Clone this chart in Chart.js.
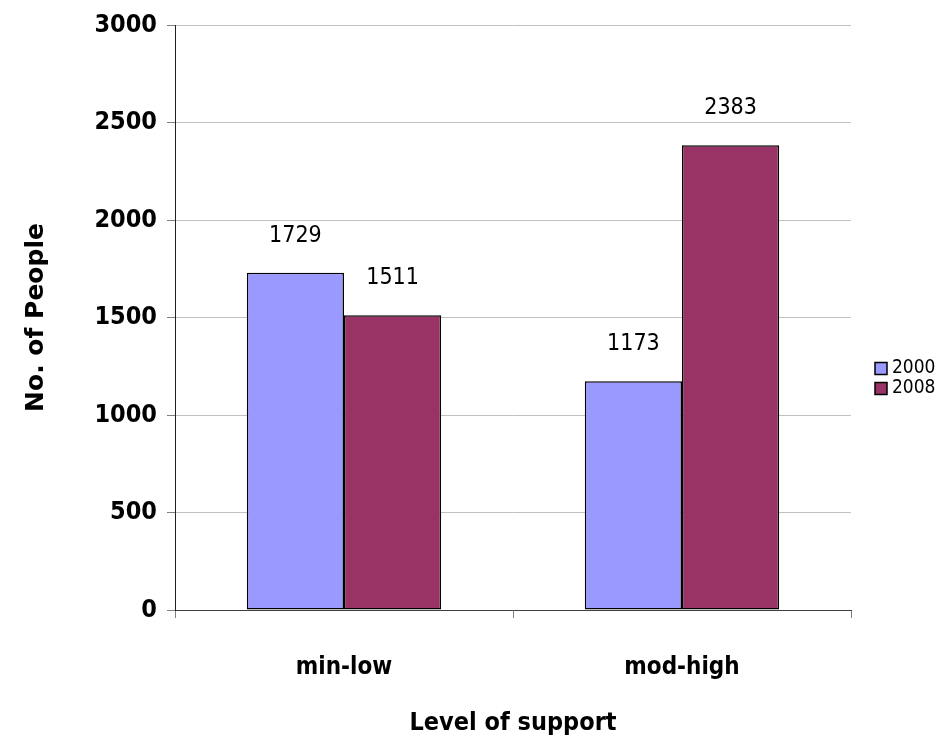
<!DOCTYPE html>
<html>
<head>
<meta charset="utf-8">
<script src="https://cdn.jsdelivr.net/npm/chart.js@4"></script>
<style>
  html, body { margin: 0; padding: 0; background: #fff; }
  #wrap { width: 937px; height: 750px; }
</style>
</head>
<body>
<div id="wrap"><canvas id="c" width="937" height="750"></canvas></div>
<script>
const categories = ['min-low', 'mod-high'];
const seriesNames = ['2000', '2008'];
const values2000 = [1729, 1173];
const values2008 = [1511, 2383];
const yTicks = [0, 500, 1000, 1500, 2000, 2500, 3000];

const NARROW = '"Liberation Sans Narrow", "DejaVu Sans Condensed", "Arial Narrow", sans-serif';

const valueLabels = {
  id: 'valueLabels',
  afterDatasetsDraw(chart) {
    const ctx = chart.ctx;
    ctx.save();
    ctx.font = '23px ' + NARROW;
    ctx.fillStyle = '#000';
    ctx.textAlign = 'center';
    ctx.textBaseline = 'middle';
    chart.data.datasets.forEach((ds, i) => {
      const meta = chart.getDatasetMeta(i);
      meta.data.forEach((bar, j) => {
        ctx.fillText(String(ds.data[j]), bar.x, bar.y - 37);
      });
    });
    ctx.restore();
  }
};

const sideLegend = {
  id: 'sideLegend',
  afterDraw(chart) {
    const ctx = chart.ctx;
    const area = chart.chartArea;
    const n = chart.data.datasets.length;
    const step = 20;
    const x0 = area.right + 24;
    const yc = (area.top + area.bottom) / 2 + 61 - (n - 1) * step / 2;
    ctx.save();
    ctx.font = '19px ' + NARROW;
    ctx.textAlign = 'left';
    ctx.textBaseline = 'middle';
    chart.data.datasets.forEach((ds, i) => {
      const y = yc + i * step;
      ctx.fillStyle = ds.backgroundColor;
      ctx.fillRect(x0, y - 6, 12, 12);
      ctx.strokeStyle = '#000';
      ctx.lineWidth = 1.5;
      ctx.strokeRect(x0, y - 6, 12, 12);
      ctx.fillStyle = '#000';
      ctx.fillText(ds.label, x0 + 17, y);
    });
    ctx.restore();
  }
};

new Chart(document.getElementById('c'), {
  type: 'bar',
  data: {
    labels: categories,
    datasets: [
      { label: seriesNames[0], data: values2000, backgroundColor: '#9999FF', borderColor: '#000', borderWidth: 1.5, borderSkipped: false },
      { label: seriesNames[1], data: values2008, backgroundColor: '#993366', borderColor: '#000', borderWidth: 1.5, borderSkipped: false }
    ]
  },
  options: {
    responsive: false,
    animation: false,
    devicePixelRatio: 1,
    layout: { padding: { left: 0, right: 86, top: 24, bottom: 0 } },
    datasets: { bar: { categoryPercentage: 0.575, barPercentage: 1.0 } },
    plugins: {
      legend: { display: false },
      tooltip: { enabled: false }
    },
    scales: {
      x: {
        afterFit(scale) { scale.height = 140; },
        grid: { offset: true, drawOnChartArea: false, tickLength: 8, tickColor: '#808080' },
        border: { color: '#404040', width: 1 },
        ticks: { color: '#000', padding: 35, font: { family: NARROW, size: 24, weight: 'bold' } },
        title: { display: true, text: 'Level of support', color: '#000', padding: { top: 0, bottom: 12 }, font: { family: NARROW, size: 25, weight: 'bold' } }
      },
      y: {
        min: 0,
        max: 3000,
        afterFit(scale) { scale.width = 175; },
        afterBuildTicks(scale) { scale.ticks = yTicks.map(v => ({ value: v })); },
        grid: { color: '#c0c0c0', tickLength: 8, tickColor: '#808080' },
        border: { color: '#202020', width: 1 },
        ticks: { color: '#000', padding: 10, font: { family: NARROW, size: 25, weight: 'bold' }, callback: (v) => String(v) },
        title: { display: true, text: 'No. of People', color: '#000', padding: { top: 21, bottom: 0 }, font: { family: '"DejaVu Sans", Verdana, sans-serif', size: 25, weight: 'bold' } }
      }
    }
  },
  plugins: [valueLabels, sideLegend]
});
</script>
</body>
</html>
